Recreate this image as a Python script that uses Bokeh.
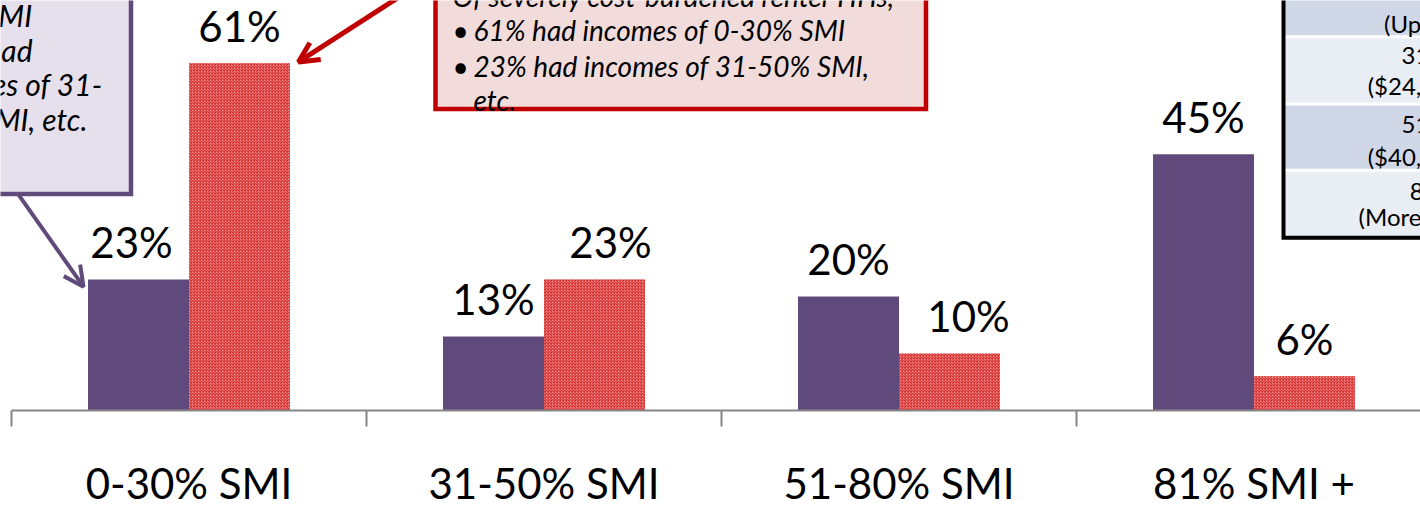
from bokeh.plotting import figure
from bokeh.models import Range1d, FixedTicker, Label, Arrow, OpenHead
from bokeh.core.properties import value
from bokeh.embed import file_html
from bokeh.resources import INLINE

# ---------------- data ----------------
categories = ["0-30% SMI", "31-50% SMI", "51-80% SMI", "81% SMI +"]
owner_pct = [23, 13, 20, 45]      # purple bars (severely cost-burdened owner HHs)
renter_pct = [61, 23, 10, 6]      # red bars (severely cost-burdened renter HHs)
owner_labels = ["23%", "13%", "20%", "45%"]
renter_labels = ["61%", "23%", "10%", "6%"]

owner_note = ["\u2022 23% had incomes of 0-30% SMI", "\u2022 13% had", "incomes of 31-", "50% SMI, etc."]
renter_note = ["Of severely cost-burdened renter HHs,", "61% had incomes of 0-30% SMI",
               "23% had incomes of 31-50% SMI,", "etc."]
table_rows = [["0-30% SMI", "(Up to $24,000)"],
              ["31-50% SMI", "($24,001-$40,000)"],
              ["51-80% SMI", "($40,001-$64,000)"],
              ["81% SMI +", "(More than $64,000)"]]

PURPLE = "#604A7B"
RED = "#C00000"
FONT = "Lato"

# ---------------- geometry helpers (picture pixel -> data) ----------------
CAT_W = 355.0
CAT0 = 188.5
BASE = 414.0
K = 5.75
YMAX = BASE / K


def X(px):
    return (px - CAT0) / CAT_W


def Y(py):
    return (BASE - py) / K


p = figure(width=1420, height=510,
           x_range=Range1d(X(0), X(1420)), y_range=Range1d(0, YMAX),
           output_backend="svg", toolbar_location=None, y_axis_location=None,
           min_border=0, min_border_left=0, min_border_right=0, min_border_top=0,
           min_border_bottom=96)
p.outline_line_color = None
p.xgrid.visible = False
p.ygrid.visible = False
p.background_fill_color = "white"
p.border_fill_color = "white"

# ---------------- bars ----------------
bw = 101 / CAT_W
xo = [i - bw / 2 for i in range(len(categories))]
xr = [i + bw / 2 for i in range(len(categories))]
p.vbar(x=xo, top=owner_pct, bottom=0, width=bw, fill_color=PURPLE, line_color=None)
p.vbar(x=xr, top=renter_pct, bottom=0, width=bw, fill_color="#EC9292", line_color=None,
       hatch_pattern="x", hatch_scale=3, hatch_weight=1.5, hatch_color="#D93535")

off = 38 / K
p.text(x=xo, y=[v + off for v in owner_pct], text=owner_labels, text_align="center",
       x_offset=[-7, 0, 0, 0],
       text_baseline="middle", text_font=value(FONT), text_font_size="42px", text_color="black")
p.text(x=xr, y=[v + off for v in renter_pct], text=renter_labels, text_align="center",
       x_offset=[0, 16, 19, 0],
       text_baseline="middle", text_font=value(FONT), text_font_size="42px", text_color="black")

# ---------------- axis ----------------
ax = p.xaxis[0]
ax.ticker = FixedTicker(ticks=list(range(len(categories))),
                        minor_ticks=[i - 0.5 for i in range(len(categories) + 1)])
ax.major_label_overrides = {i: c for i, c in enumerate(categories)}
ax.bounds = (-0.5, len(categories) - 0.5)
ax.axis_line_color = "#868686"
ax.axis_line_width = 2
ax.major_tick_line_color = None
ax.major_tick_in = 0
ax.major_tick_out = 0
ax.minor_tick_line_color = "#868686"
ax.minor_tick_line_width = 2
ax.minor_tick_in = 0
ax.minor_tick_out = 16
ax.major_label_text_font = FONT
ax.major_label_text_font_size = "42px"
ax.major_label_text_color = "black"
ax.major_label_standoff = 31


def txt(px, py, s, size="28px", align="left", style="italic"):
    p.add_layout(Label(x=X(px), y=Y(py), text=s, text_font=FONT, text_font_size=size,
                       text_font_style=style, text_align=align, text_baseline="middle",
                       text_color="black"))


# ---------------- owner callout (purple) ----------------
p.quad(left=X(-200), right=X(130.5), top=Y(-60), bottom=Y(195.5),
       fill_color="#E6E0EC", line_color=PURPLE, line_width=4.5, line_join="miter")
ends = [32, 32, 102, 87]
mids = [15, 50, 84, 120]
for s, e, m in zip(owner_note, ends, mids):
    txt(e, m, s, size="30px", align="right")
p.add_layout(Arrow(end=OpenHead(size=20, line_color=PURPLE, line_width=4),
                   x_start=X(18), y_start=Y(196), x_end=X(83), y_end=Y(289),
                   line_color=PURPLE, line_width=4))

# ---------------- renter callout (red) ----------------
p.quad(left=X(435), right=X(925.5), top=Y(-60), bottom=Y(109.5),
       fill_color="#F2DCDB", line_color=RED, line_width=4.5, line_join="miter")
txt(452, -5, renter_note[0])
txt(452, 30, "\u2022", style="normal")
txt(473, 30, renter_note[1])
txt(452, 66, "\u2022", style="normal")
txt(473, 66, renter_note[2])
txt(473, 100, renter_note[3])
p.add_layout(Arrow(end=OpenHead(size=20, line_color=RED, line_width=5),
                   x_start=X(433), y_start=Y(-26), x_end=X(298), y_end=Y(62),
                   line_color=RED, line_width=5))

# ---------------- SMI table (right) ----------------
row_tops = [-60, 38, 106, 173]
row_bots = [35, 103, 170, 238]
row_cols = ["#D0D8E8", "#E9EDF4", "#D0D8E8", "#E9EDF4"]
p.quad(left=[X(1284)] * 4, right=[X(1700)] * 4, top=[Y(t) for t in row_tops],
       bottom=[Y(b) for b in row_bots], fill_color=row_cols, line_color=None)
p.quad(left=X(1283), right=X(1700), top=Y(-60), bottom=Y(239.5), fill_color=None,
       line_color="black", line_width=4, line_join="miter")
line1 = [-16, 55, 124, 192]
line2 = [23, 86, 158, 218]
for (a, b), y1, y2 in zip(table_rows, line1, line2):
    txt(1467, y1, a, size="24px", align="center", style="normal")
    txt(1467, y2, b, size="24px", align="center", style="normal")

open("out.html", "w").write(file_html(p, INLINE))
